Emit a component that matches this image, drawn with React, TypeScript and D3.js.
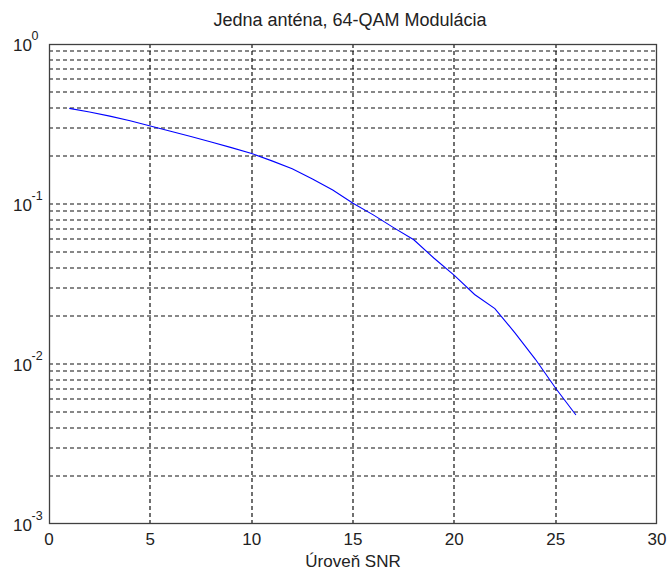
import React from "react";
import * as d3 from "d3";

const title = "Jedna anténa, 64-QAM Modulácia";
const xLabel = "Úroveň SNR";
const snr = [1, 2, 3, 4, 5, 6, 7, 8, 9, 10, 11, 12, 13, 14, 15, 16, 17, 18, 19, 20, 21, 22, 23, 24, 25, 26];
const ber = [0.396, 0.376, 0.354, 0.331, 0.307, 0.285, 0.264, 0.244, 0.225, 0.207, 0.186, 0.166, 0.1435, 0.1224, 0.101, 0.0855, 0.0712, 0.0598, 0.0458, 0.0358, 0.0272, 0.0222, 0.0156, 0.0107, 0.00705, 0.0048];
const xTicks = [0, 5, 10, 15, 20, 25, 30];
const yDecades = [0, -1, -2, -3];

const W = 669, H = 573;
const L = 49, R = 657, T = 44, B = 524;

export default function App() {
  const x = d3.scaleLinear().domain([0, 30]).range([L, R]);
  const y = d3.scaleLog().domain([1e-3, 1]).range([B, T]);
  const line = d3.line<number>().x((_, i) => x(snr[i])).y((d) => y(d));

  const minor: number[] = [];
  for (let e = -3; e < 0; e++) {
    for (let m = 2; m <= 9; m++) minor.push(m * Math.pow(10, e));
  }
  const hGrid = [...minor, 0.1, 0.01];
  const font = "Arial, 'Liberation Sans', sans-serif";
  const dash = "4 3";

  return (
    <svg width={W} height={H} style={{ position: "absolute", left: 0, top: 0, background: "#fff" }} fontFamily={font}>
      <rect x={0} y={0} width={W} height={H} fill="#fff" />
      {hGrid.map((v, i) => (
        <line key={"h" + i} x1={L} x2={R} y1={Math.round(y(v))} y2={Math.round(y(v))} stroke="#111" strokeWidth={1.2} strokeDasharray={dash} />
      ))}
      {xTicks.slice(1, -1).map((t) => (
        <line key={"v" + t} x1={Math.round(x(t))} x2={Math.round(x(t))} y1={T} y2={B} stroke="#111" strokeWidth={1.2} strokeDasharray={dash} />
      ))}
      <path d={line(ber) || ""} fill="none" stroke="#0000ff" strokeWidth={1.1} />
      <rect x={L + 0.5} y={T + 0.5} width={R - L - 1} height={B - T - 1} fill="none" stroke="#404040" strokeWidth={1.3} />
      {xTicks.map((t) => (
        <text key={"xt" + t} x={x(t)} y={545} textAnchor="middle" fontSize={17} fill="#222">{t}</text>
      ))}
      {yDecades.map((e) => (
        <g key={"yt" + e}>
          <text x={13} y={y(Math.pow(10, e)) + 7} fontSize={17} fill="#222">10</text>
          <text x={31.5} y={y(Math.pow(10, e)) - 4} fontSize={12.5} fill="#222">{e}</text>
        </g>
      ))}
      <text x={350} y={26} textAnchor="middle" fontSize={18} fill="#222">{title}</text>
      <text x={353} y={567} textAnchor="middle" fontSize={17} fill="#222">{xLabel}</text>
    </svg>
  );
}
